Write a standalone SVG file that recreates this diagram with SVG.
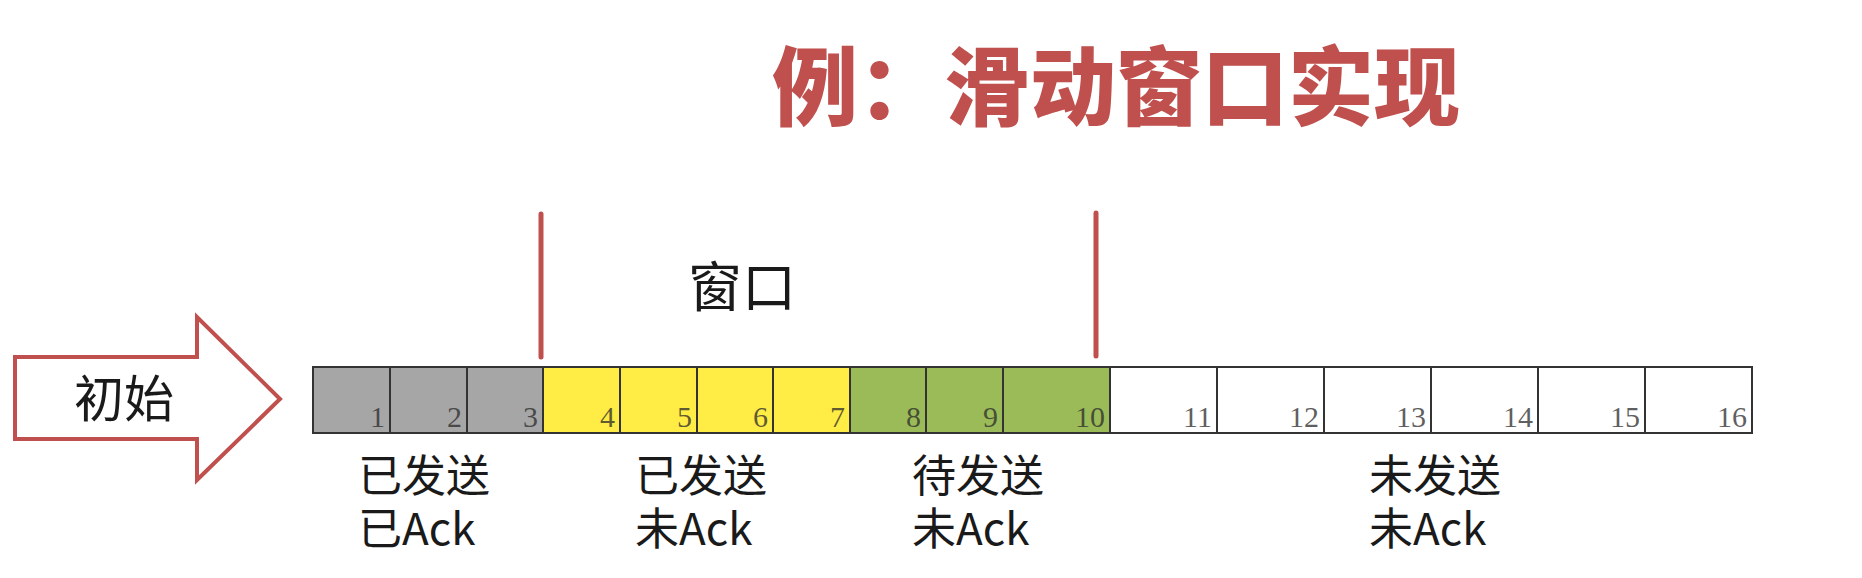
<svg xmlns="http://www.w3.org/2000/svg" width="1862" height="578" viewBox="0 0 1862 578">
<style>
.cjk{font-family:"Noto Sans CJK SC","Noto Sans",sans-serif;fill:#1a1a1a}
.lbl{font-size:44px}
.num{font-family:"Liberation Serif",serif;font-size:30px;fill:#2a2a2a;fill-opacity:0.75;text-anchor:end}
.cell{stroke:#333;stroke-width:2}
.g{fill:#a6a6a6}.y{fill:#ffec45}.gr{fill:#9bbb59}.w{fill:#fff}
.red{stroke:#c0504d;stroke-width:5;stroke-linecap:round}
</style>
<rect width="1862" height="578" fill="#fff"/>
<g id="title"><text x="772" y="119" class="cjk" style="font-size:86px;font-weight:900;fill:#c0504d">例：滑动窗口实现</text></g>
<g id="start-arrow">
<polygon points="15,357 197,357 197,317 280,399 197,480 197,439 15,439" fill="#fff" stroke="#c0504d" stroke-width="4"/>
<text x="124" y="417" class="cjk" style="font-size:50px" text-anchor="middle">初始</text>
</g>
<g id="window">
<line x1="541" y1="214" x2="541" y2="357" class="red"/>
<line x1="1096" y1="213" x2="1096" y2="356" class="red"/>
<text x="742" y="307" class="cjk" style="font-size:54px" text-anchor="middle">窗口</text>
</g>
<g id="cells">
<rect x="313" y="367" width="77" height="66" class="cell g"/>
<rect x="390" y="367" width="77" height="66" class="cell g"/>
<rect x="467" y="367" width="76" height="66" class="cell g"/>
<rect x="543" y="367" width="77" height="66" class="cell y"/>
<rect x="620" y="367" width="77" height="66" class="cell y"/>
<rect x="697" y="367" width="76" height="66" class="cell y"/>
<rect x="773" y="367" width="77" height="66" class="cell y"/>
<rect x="850" y="367" width="76" height="66" class="cell gr"/>
<rect x="926" y="367" width="77" height="66" class="cell gr"/>
<rect x="1003" y="367" width="107" height="66" class="cell gr"/>
<rect x="1110" y="367" width="107" height="66" class="cell w"/>
<rect x="1217" y="367" width="107" height="66" class="cell w"/>
<rect x="1324" y="367" width="107" height="66" class="cell w"/>
<rect x="1431" y="367" width="107" height="66" class="cell w"/>
<rect x="1538" y="367" width="107" height="66" class="cell w"/>
<rect x="1645" y="367" width="107" height="66" class="cell w"/>
<text x="385" y="427" class="num">1</text>
<text x="462" y="427" class="num">2</text>
<text x="538" y="427" class="num">3</text>
<text x="615" y="427" class="num">4</text>
<text x="692" y="427" class="num">5</text>
<text x="768" y="427" class="num">6</text>
<text x="845" y="427" class="num">7</text>
<text x="921" y="427" class="num">8</text>
<text x="998" y="427" class="num">9</text>
<text x="1105" y="427" class="num">10</text>
<text x="1212" y="427" class="num">11</text>
<text x="1319" y="427" class="num">12</text>
<text x="1426" y="427" class="num">13</text>
<text x="1533" y="427" class="num">14</text>
<text x="1640" y="427" class="num">15</text>
<text x="1747" y="427" class="num">16</text>
</g>
<g id="label-sent-acked" class="cjk lbl"><text x="358" y="492">已发送</text><text x="358" y="545">已Ack</text></g>
<g id="label-sent-unacked" class="cjk lbl"><text x="635" y="492">已发送</text><text x="635" y="545">未Ack</text></g>
<g id="label-to-send" class="cjk lbl"><text x="912" y="492">待发送</text><text x="912" y="545">未Ack</text></g>
<g id="label-unsent" class="cjk lbl"><text x="1369" y="492">未发送</text><text x="1369" y="545">未Ack</text></g>
<g id="connectors"></g>
</svg>
